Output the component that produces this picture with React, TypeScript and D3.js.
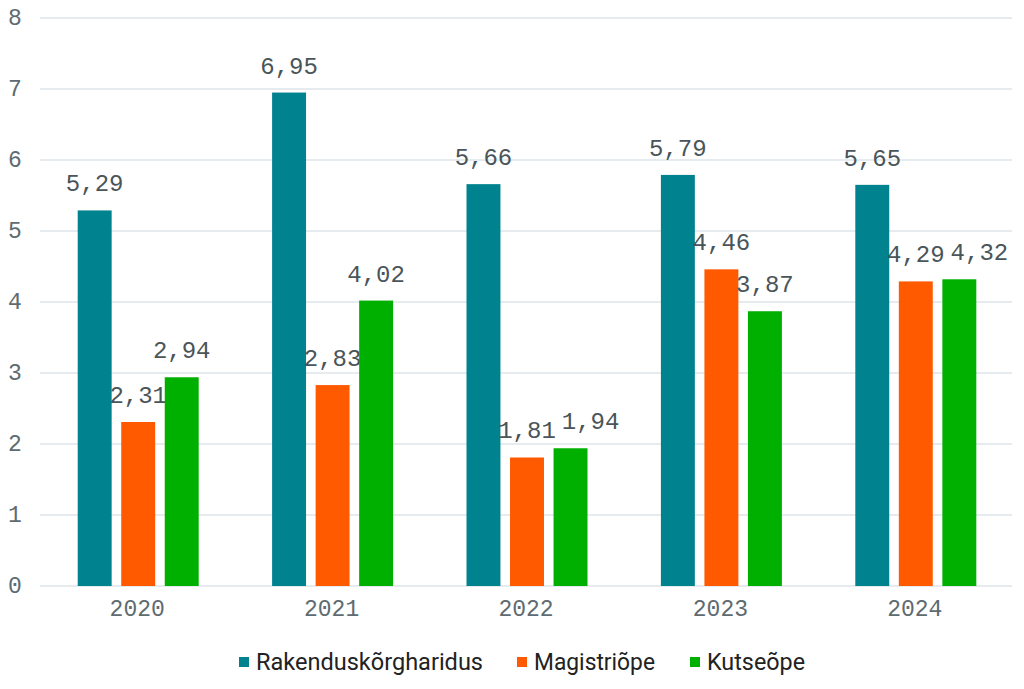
import React from "react";
import * as d3 from "d3";

const years = ["2020", "2021", "2022", "2023", "2024"];
const seriesNames = ["Rakenduskõrgharidus", "Magistriõpe", "Kutseõpe"];
const rakendus = [5.29, 6.95, 5.66, 5.79, 5.65];
const magistri = [2.31, 2.83, 1.81, 4.46, 4.29];
const kutse = [2.94, 4.02, 1.94, 3.87, 4.32];
const yTicks = [0, 1, 2, 3, 4, 5, 6, 7, 8];
const colors = ["#00828F", "#FF5A00", "#00B000"];

export default function App() {
  const W = 1024, H = 689;
  const left = 40, right = 1012, top = 18, bottom = 586;
  const series = [rakendus, magistri, kutse];
  const x = d3.scaleBand().domain(years).range([left, right]).paddingInner(0).paddingOuter(0);
  const y = d3.scaleLinear().domain([0, 8]).range([bottom, top]);
  const groupW = 121;
  const x1 = d3.scaleBand().domain(seriesNames).range([0, groupW]).paddingInner(0.22).paddingOuter(0);
  const mono = "'Liberation Mono', 'DejaVu Sans Mono', monospace";
  const fmt = (v: number) => v.toFixed(2).replace(".", ",");
  const fs = 24;
  const labelW = fs * 0.6 * 4;
  const legendX = [239, 517, 690];
  const legendW = [227, 121, 98];
  return (
    <svg width={W} height={H} style={{ position: "absolute", left: 0, top: 0, background: "#fff" }}>
      {yTicks.map((t) => (
        <g key={t}>
          <line x1={left} x2={right} y1={y(t)} y2={y(t)} stroke="#DDE5E8" strokeWidth={1.5} />
          <text x={15} y={y(t) + 7} fontFamily={mono} fontSize={23} fill="#5E6B70" textAnchor="middle">{t}</text>
        </g>
      ))}
      {years.map((yr, i) => {
        const gx = (x(yr) as number) + x.bandwidth() / 2 - groupW / 2 + 1;
        let prev: { r: number; top: number; bottom: number } | null = null;
        const items = series.map((s, j) => {
          const bx = gx + (x1(seriesNames[j]) as number);
          const bw = x1.bandwidth();
          let cx = bx + bw / 2;
          const ly = y(s[i]) - 19;
          const ltop = ly - fs * 0.75, lbot = ly;
          if (prev && ltop < prev.bottom && lbot > prev.top && cx - labelW / 2 < prev.r) {
            cx = prev.r + 6 + labelW / 2;
          }
          prev = { r: cx + labelW / 2, top: ltop, bottom: lbot };
          return (
            <g key={j}>
              <rect x={bx} y={y(s[i])} width={bw} height={bottom - y(s[i])} fill={colors[j]} />
              <text x={cx} y={ly} fontFamily={mono} fontSize={fs} fill="#4A5559" textAnchor="middle">{fmt(s[i])}</text>
            </g>
          );
        });
        return (
          <g key={yr}>
            {items}
            <text x={(x(yr) as number) + x.bandwidth() / 2} y={616} fontFamily={mono} fontSize={23} fill="#5E6B70" textAnchor="middle">{yr}</text>
          </g>
        );
      })}
      {seriesNames.map((n, j) => (
        <g key={n}>
          <rect x={legendX[j]} y={657} width={10} height={10} fill={colors[j]} />
          <text x={legendX[j] + 17} y={670} fontFamily="'Roboto', 'Liberation Sans', sans-serif" fontSize={24} fill="#222" textLength={legendW[j]} lengthAdjust="spacingAndGlyphs">{n}</text>
        </g>
      ))}
    </svg>
  );
}
